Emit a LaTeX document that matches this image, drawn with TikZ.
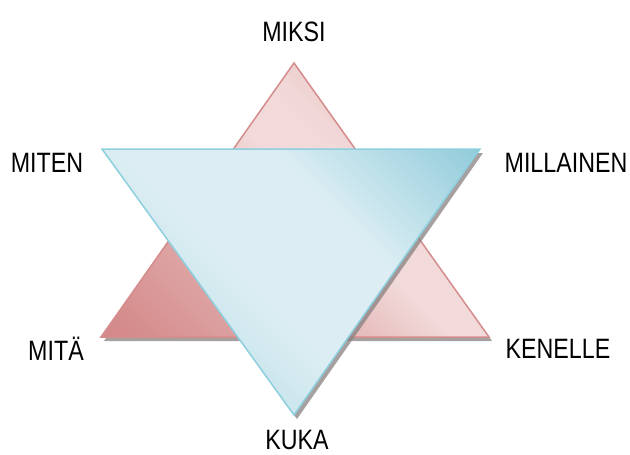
\documentclass[tikz,border=0pt]{standalone}
\usepackage{fontspec}
\setmainfont{Liberation Sans}[FakeStretch=0.83]
\definecolor{redLine}{HTML}{D58C8C}
\definecolor{redDark}{HTML}{D48A8A}
\definecolor{redLight}{HTML}{F2DADA}
\definecolor{redTop}{HTML}{E8C2C2}
\definecolor{blueLine}{HTML}{8DCFDE}
\definecolor{blueDark}{HTML}{8CC9D9}
\definecolor{blueMid}{HTML}{DCEEF3}
\definecolor{blueLow}{HTML}{C3E2EA}
\definecolor{shadowGray}{HTML}{8A8080}
% path bounding box maps to 25bp..75bp
\pgfdeclareverticalshading{redshade}{100bp}{color(0bp)=(redDark); color(35bp)=(redDark); color(47bp)=(redLight!50!redDark); color(54bp)=(redLight); color(58bp)=(redLight); color(65bp)=(redTop); color(100bp)=(redTop)}
\pgfdeclareverticalshading{blueshade}{100bp}{color(0bp)=(blueLow); color(37bp)=(blueLow); color(45bp)=(blueMid); color(54bp)=(blueMid); color(67bp)=(blueDark); color(100bp)=(blueDark)}
\tikzset{
  lbl/.style={font=\fontsize{28}{30}\selectfont, text=black, inner sep=0pt},
  shadowtri/.style={fill=shadowGray, draw=none, opacity=0.75},
}
\begin{document}
\begin{tikzpicture}[x=1pt,y=-1pt]
\useasboundingbox (0,0) rectangle (630,455);
% red triangle corners
\coordinate (rA) at (294,63);
\coordinate (rL) at (101,337);
\coordinate (rR) at (489,337);
\coordinate (rC) at (294,246);
% blue triangle corners
\coordinate (bL) at (102,149);
\coordinate (bR) at (480,149);
\coordinate (bB) at (294,415);
\coordinate (bC) at (292,238);
% red shadow
\fill[shadowtri] ([shift={(3,4)}]rA) -- ([shift={(3,4)}]rL) -- ([shift={(3,4)}]rR) -- cycle;
% red triangle
\begin{scope}
  \clip (rA) -- (rL) -- (rR) -- cycle;
  \begin{scope}[transform canvas={rotate around={-45:(rC)}}]
    \shade[shading=redshade] ([shift={(-300,-300)}]rC) rectangle ([shift={(300,300)}]rC);
  \end{scope}
\end{scope}
\draw[redLine, line width=1.5pt, line join=miter] (rA) -- (rL) -- (rR) -- cycle;
% blue shadow
\fill[shadowtri] ([shift={(3,4)}]bL) -- ([shift={(3,4)}]bR) -- ([shift={(3,4)}]bB) -- cycle;
% blue triangle
\begin{scope}
  \clip (bL) -- (bR) -- (bB) -- cycle;
  \begin{scope}[transform canvas={rotate around={-45:(bC)}}]
    \shade[shading=blueshade] ([shift={(-300,-300)}]bC) rectangle ([shift={(300,300)}]bC);
  \end{scope}
\end{scope}
\draw[blueLine, line width=1.5pt, line join=miter] (bL) -- (bR) -- (bB) -- cycle;
% labels
\node[lbl] (miksi) at (294,32) {MIKSI};
\node[lbl] (miten) at (47,163) {MITEN};
\node[lbl] (millainen) at (566,163) {MILLAINEN};
\node[lbl] (mita) at (56,349) {MITÄ};
\node[lbl] (kenelle) at (558,349) {KENELLE};
\node[lbl] (kuka) at (297,440) {KUKA};
\end{tikzpicture}
\end{document}
